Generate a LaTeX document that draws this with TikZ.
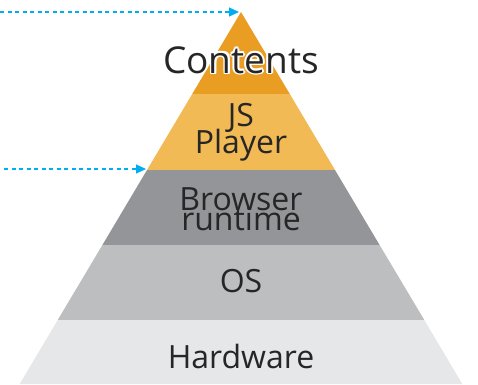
\documentclass[tikz,border=0pt]{standalone}
\usepackage{fontspec}
\setmainfont{Open Sans}
\usetikzlibrary{arrows.meta}

\definecolor{contentsfill}{HTML}{E99D22}
\definecolor{playerfill}{HTML}{F2BA55}
\definecolor{browserfill}{HTML}{939598}
\definecolor{osfill}{HTML}{BCBEC0}
\definecolor{hwfill}{HTML}{E6E7E8}
\definecolor{linkblue}{HTML}{00AEEF}

\tikzset{
  layertext/.style={anchor=base, text=black!85, font=\fontsize{32}{25}\selectfont, align=center, inner sep=0pt},
  toptext/.style={anchor=base, font=\fontsize{37}{37}\selectfont, inner sep=0pt},
  pointer/.style={draw=linkblue, line width=1.2pt, dash pattern=on 4pt off 3.5pt, -{Triangle[length=10pt,width=9pt]}}
}

\begin{document}
\begin{tikzpicture}[x=1pt,y=-1pt]
  \useasboundingbox (0,0) rectangle (478,384);
  % the layers, top to bottom
  \fill[contentsfill] (241,12) -- (192.2,94) -- (289.8,94) -- cycle;
  \fill[playerfill] (192.2,94) -- (289.8,94) -- (335,170) -- (147,170) -- cycle;
  \fill[browserfill] (147,170) -- (335,170) -- (379.6,245) -- (102.4,245) -- cycle;
  \fill[osfill] (102.4,245) -- (379.6,245) -- (424.3,320) -- (57.7,320) -- cycle;
  \fill[hwfill] (57.7,320) -- (424.3,320) -- (462.3,384) -- (19.7,384) -- cycle;
  % labels
  \foreach \a in {0,45,...,315}
    \node[toptext, text=white, shift={(\a:1.8)}] at (241,73) {Contents};
  \node[toptext, text=black!85] (contents) at (241,73) {Contents};
  \node[layertext] (player) at (241,153) {JS\\[-5pt]Player};
  \node[layertext] (browser) at (241,230) {Browser\\[-5pt]runtime};
  \node[layertext] (os) at (241,292) {OS};
  \node[layertext] (hardware) at (241,368) {Hardware};
  % pointers
  \coordinate (apex) at (239,12);
  \coordinate (playertop) at (146,169);
  \coordinate (from1) at (0,12);
  \coordinate (from2) at (4,169);
  \draw[pointer] (from1) -- (apex);
  \draw[pointer] (from2) -- (playertop);
\end{tikzpicture}
\end{document}
